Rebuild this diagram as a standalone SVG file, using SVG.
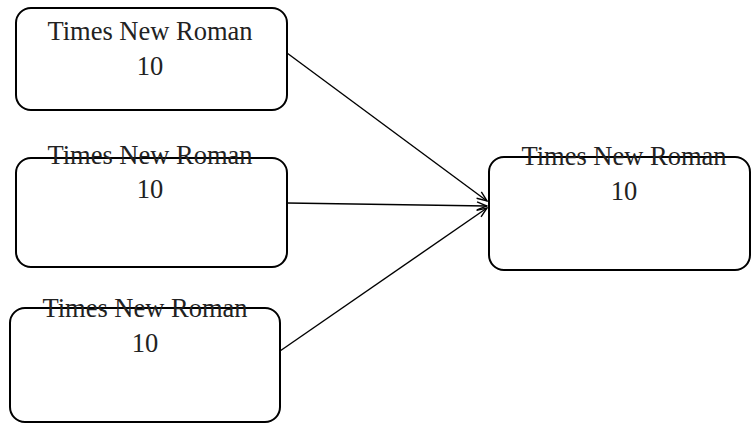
<svg xmlns="http://www.w3.org/2000/svg" width="751" height="424" viewBox="0 0 751 424">
<style>
.box{fill:#fff;stroke:#000;stroke-width:2}
.t{font-family:"Liberation Serif","Times New Roman",serif;font-size:26.5px;fill:#222;text-anchor:middle}
.c{fill:none;stroke:#000;stroke-width:1.4}
</style>
<defs>
<marker id="ah" markerWidth="12" markerHeight="10" refX="11" refY="5" orient="auto" markerUnits="userSpaceOnUse">
<path d="M1,1 L11,5 L1,9" fill="none" stroke="#000" stroke-width="1.4"/>
</marker>
</defs>
<rect width="751" height="424" fill="#fff"/>
<g id="connectors">
<line class="c" x1="287" y1="53" x2="487" y2="201" marker-end="url(#ah)"/>
<line class="c" x1="287" y1="203" x2="487" y2="206" marker-end="url(#ah)"/>
<line class="c" x1="280" y1="351" x2="487" y2="208" marker-end="url(#ah)"/>
</g>
<g id="n1">
<rect class="box" x="16" y="8" width="271" height="102" rx="15"/>
<text class="t" x="150" y="40">Times New Roman</text>
<text class="t" x="150" y="75">10</text>
</g>
<g id="n2">
<rect class="box" x="16" y="158" width="271" height="109" rx="15"/>
<text class="t" x="150" y="164">Times New Roman</text>
<text class="t" x="150" y="198">10</text>
</g>
<g id="n3">
<rect class="box" x="10" y="308" width="270" height="114" rx="15"/>
<text class="t" x="145" y="317">Times New Roman</text>
<text class="t" x="145" y="352">10</text>
</g>
<g id="n4">
<rect class="box" x="489" y="157" width="261" height="113" rx="15"/>
<text class="t" x="624" y="165">Times New Roman</text>
<text class="t" x="624" y="200">10</text>
</g>
</svg>
